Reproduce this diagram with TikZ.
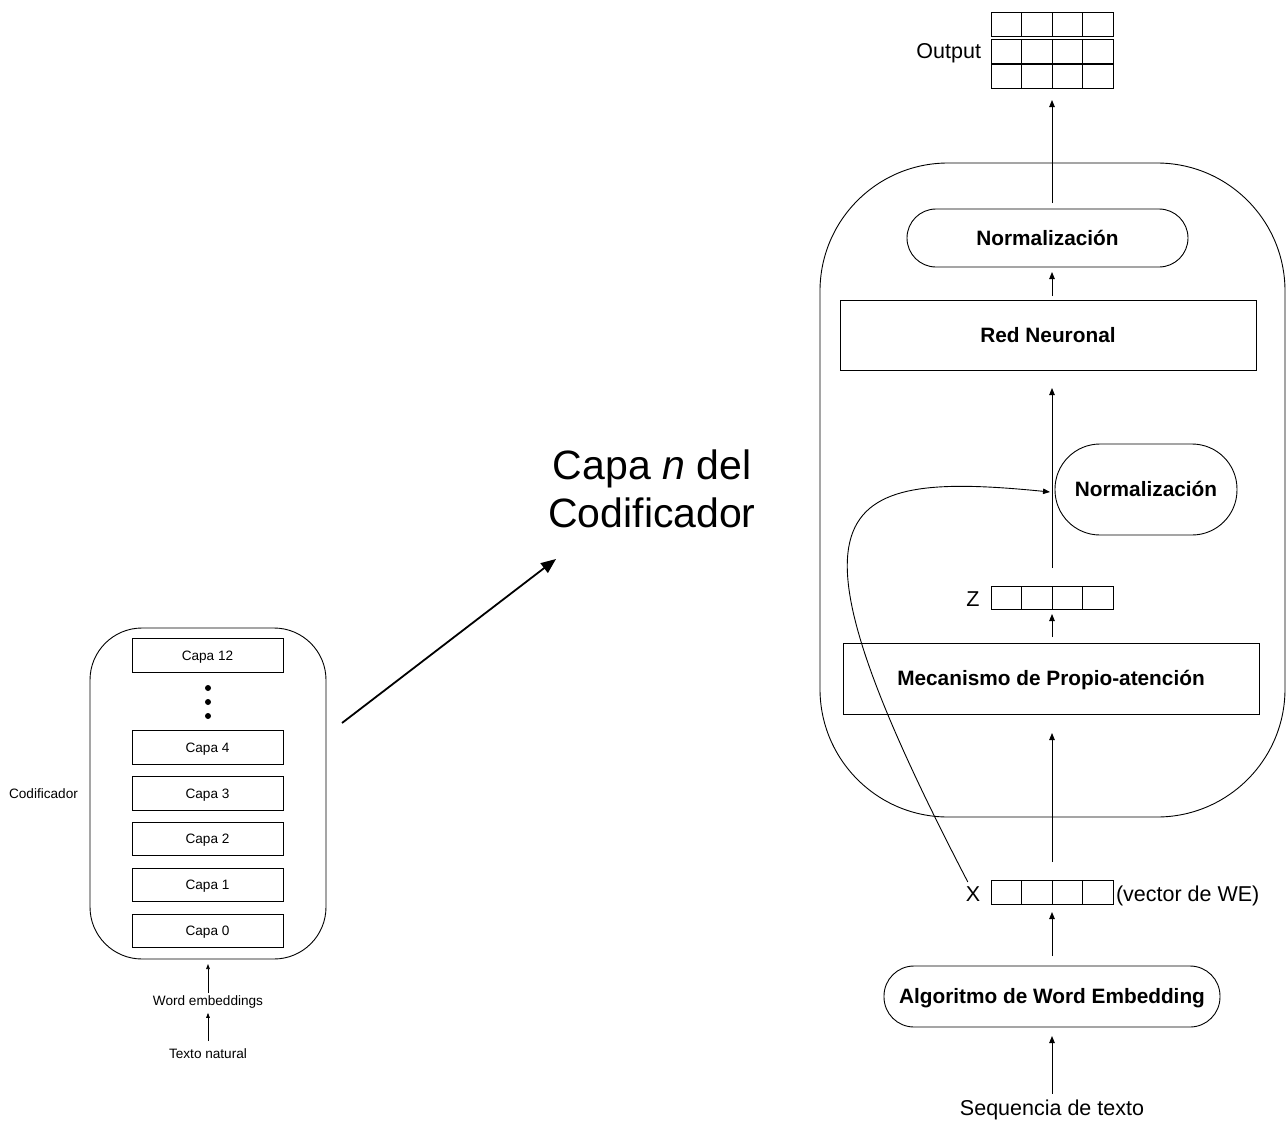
\documentclass[tikz,border=0pt]{standalone}
\usepackage{fontspec}
\setmainfont{Liberation Sans}
\usetikzlibrary{arrows.meta,calc}

\begin{document}
\begin{tikzpicture}[x=1pt,y=-1pt,line width=0.9pt,
  every node/.style={inner sep=0pt,outer sep=0pt},
  plainbox/.style={draw,rectangle,align=center},
  pillbox/.style={draw,rectangle,align=center},
  gridbox/.style={draw,rectangle,minimum width=122pt,minimum height=24pt},
  % text styles: the node centre sits on the middle of the capitals
  bigtxt/.style={font=\fontsize{21.5}{25}\selectfont,text height=15.4pt,text depth=0pt},
  boldtxt/.style={font=\fontsize{20.8}{25}\selectfont\bfseries,text height=14.9pt,text depth=0pt},
  smalltxt/.style={font=\fontsize{13.6}{16}\selectfont,text height=9.7pt,text depth=0pt},
  arr/.style={-{Triangle[length=7pt,width=5.5pt]}},
  smallarr/.style={line width=0.7pt,-{Triangle[length=5pt,width=3.6pt]}},
  dotnode/.style={circle,fill,minimum size=6pt}
]
\useasboundingbox (0,0) rectangle (1286,1120);

% ---------- encoder stack (left) ----------
\node[draw,rectangle,rounded corners=52pt,minimum width=236pt,minimum height=331pt] (enc) at (208,793.5) {};
\foreach \nm/\lbl/\yy in {c12/Capa 12/655.5, c4/Capa 4/747.5, c3/Capa 3/793.5,
                          c2/Capa 2/839, c1/Capa 1/885, c0/Capa 0/931}
  \node[plainbox,smalltxt,minimum width=151pt,minimum height=33.5pt] (\nm) at (207.5,\yy) {\lbl};
\node[dotnode] (d1) at (208,688) {};
\node[dotnode] (d2) at (208,702) {};
\node[dotnode] (d3) at (208,716) {};
\node[smalltxt] (codlbl) at (43.5,794) {Codificador};
\node[smalltxt] (we) at (208,1001) {Word embeddings};
\node[smalltxt] (tn) at (208,1053.5) {Texto natural};
\draw[smallarr,shorten <=3pt,shorten >=5pt] (we) -- (enc.south);
\draw[smallarr,shorten <=7.5pt,shorten >=7pt] (tn) -- (we);

% ---------- zoom arrow and title ----------
\coordinate (bigfrom) at (342,723);
\coordinate (bigto) at (556,559);
\draw[line width=1.8pt,-{Triangle[length=15pt,width=12pt]}] (bigfrom) -- (bigto);
\node[align=center,font=\fontsize{41}{47.5}\selectfont] (title) at (652,489)
  {Capa \textit{n} del\\Codificador};

% ---------- encoder layer (right) ----------
\node[draw,rectangle,rounded corners=128pt,minimum width=465pt,minimum height=654pt] (layer) at (1052.5,490) {};

% output vectors
\node[gridbox] (out1) at (1052,24) {};
\node[gridbox] (out2) at (1052,51) {};
\node[gridbox] (out3) at (1052,76) {};
\node[bigtxt,anchor=east] (outlbl) at (981,50.8) {Output};

% Z and X vectors
\node[gridbox,minimum height=23pt] (zg) at (1052,597.5) {};
\node[bigtxt] (zlbl) at (973,599) {Z};
\node[gridbox] (xg) at (1052,892) {};
\node[bigtxt] (xlbl) at (973,893.7) {X};
\node[bigtxt,anchor=west] (welbl) at (1116,893.7) {(vector de WE)};

% cell dividers of every vector
\foreach \g in {out1,out2,out3,zg,xg}
  \foreach \k in {1,2,3}
    \draw ($(\g.south west)!\k/4!(\g.south east)$) -- ($(\g.north west)!\k/4!(\g.north east)$);

% processing blocks
\node[pillbox,boldtxt,rounded corners=29pt,minimum width=281pt,minimum height=58pt] (norm1) at (1047.5,238) {Normalización};
\node[plainbox,boldtxt,minimum width=416pt,minimum height=70pt] (red) at (1048,335) {Red Neuronal};
\node[pillbox,boldtxt,rounded corners=45pt,minimum width=182pt,minimum height=91pt] (norm2) at (1146,489.5) {Normalización};
\node[plainbox,boldtxt,minimum width=416pt,minimum height=71pt] (mec) at (1051,678.5) {Mecanismo de Propio-atención};
\node[pillbox,boldtxt,rounded corners=30pt,minimum width=336pt,minimum height=61pt] (alg) at (1052,996.5) {Algoritmo de Word Embedding};
\node[bigtxt] (seq) at (1052,1107.5) {Sequencia de texto};

% vertical data flow
\draw[arr,shorten <=6pt,shorten >=12pt] (norm1.north -| out3.south) -- (out3.south);
\draw[arr,shorten <=4pt,shorten >=5pt] (red.north -| out3.south) -- (norm1.south -| out3.south);
\draw[arr,shorten <=18pt,shorten >=18pt] (zg.north) -- (red.south -| zg.north);
\draw[arr,shorten <=6pt,shorten >=5pt] (mec.north -| zg.south) -- (zg.south);
\draw[arr,shorten <=18pt,shorten >=19pt] (xg.north) -- (mec.south -| xg.north);
\draw[arr,shorten <=10pt,shorten >=8pt] (alg.north -| xg.south) -- (xg.south);
\draw[arr,shorten <=6pt,shorten >=9pt] (seq.north) -- (alg.south -| seq.north);

% residual connection from X into the normalisation branch
\coordinate (join) at (1050,492);
\draw[arr] ([xshift=2pt,yshift=4pt]xlbl.north west) .. controls (770,502) and (830,470) .. (join);
\end{tikzpicture}
\end{document}
